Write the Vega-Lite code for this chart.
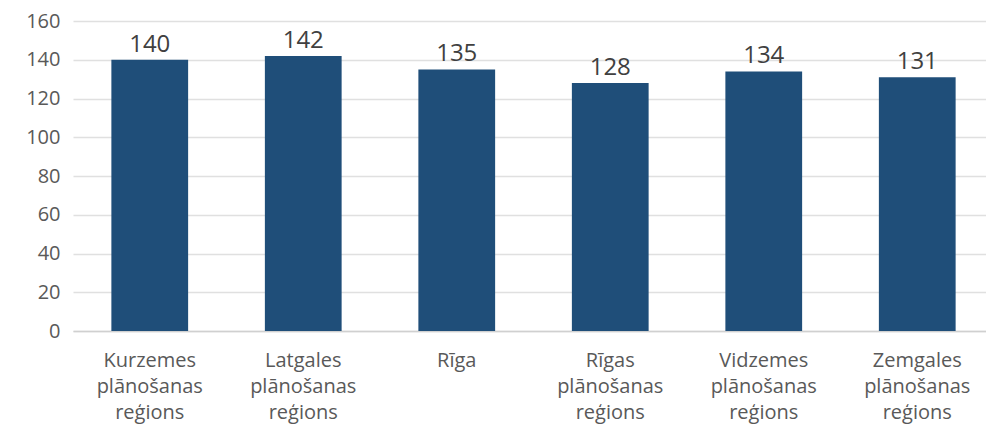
{
  "$schema": "https://vega.github.io/schema/vega-lite/v6.json",
  "width": 921,
  "height": 310,
  "autosize": {"type": "none"},
  "padding": {"left": 73, "top": 21, "right": 0, "bottom": 100},
  "background": "white",
  "config": {
    "font": "Open Sans",
    "view": {"stroke": null}
  },
  "data": {
    "values": [
      {"region": "Kurzemes plānošanas reģions", "value": 140},
      {"region": "Latgales plānošanas reģions", "value": 142},
      {"region": "Rīga", "value": 135},
      {"region": "Rīgas plānošanas reģions", "value": 128},
      {"region": "Vidzemes plānošanas reģions", "value": 134},
      {"region": "Zemgales plānošanas reģions", "value": 131}
    ]
  },
  "encoding": {
    "x": {
      "field": "region",
      "type": "nominal",
      "sort": null,
      "scale": {"paddingInner": 0.5, "paddingOuter": 0.25},
      "axis": {
        "title": null,
        "labelAngle": 0,
        "labelExpr": "split(datum.label, ' ')",
        "labelFont": "Open Sans",
        "labelFontSize": 20,
        "labelColor": "#595959",
        "labelLineHeight": 26,
        "labelPadding": 19,
        "ticks": false,
        "domain": true,
        "domainColor": "#d0d0d0",
        "domainWidth": 1.5
      }
    },
    "y": {
      "field": "value",
      "type": "quantitative",
      "scale": {"domain": [0, 160], "nice": false},
      "axis": {
        "title": null,
        "values": [0, 20, 40, 60, 80, 100, 120, 140, 160],
        "labelFont": "Open Sans",
        "labelFontSize": 20,
        "labelColor": "#595959",
        "labelPadding": 13,
        "ticks": false,
        "domain": false,
        "gridColor": "#e0e0e0",
        "gridWidth": 1.5
      }
    }
  },
  "layer": [
    {"mark": {"type": "bar", "color": "#1F4E79"}},
    {
      "mark": {"type": "text", "baseline": "bottom", "dy": -3, "fontSize": 24, "color": "#404040", "font": "Open Sans"},
      "encoding": {"text": {"field": "value", "type": "quantitative"}}
    }
  ]
}
